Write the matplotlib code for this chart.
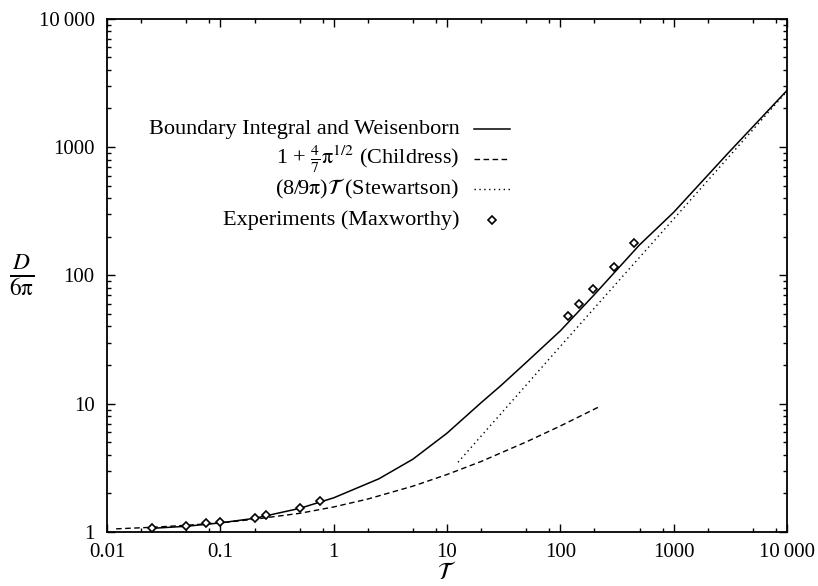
import matplotlib
matplotlib.use("Agg")
import matplotlib.pyplot as plt
from matplotlib.lines import Line2D
from matplotlib.ticker import FixedLocator, FixedFormatter, LogLocator, NullFormatter

plt.rcParams["font.family"] = ["Liberation Serif", "DejaVu Serif"]
plt.rcParams["mathtext.fontset"] = "stix"

# Boundary integral and Weisenborn (solid)
bi_T = [0.025, 0.05, 0.1, 0.2, 0.5, 1, 2.5, 5, 10, 20, 30, 50, 100, 200, 500, 1000, 3000, 10000]
bi_D = [1.07, 1.11, 1.18, 1.28, 1.53, 1.85, 2.6, 3.7, 5.9, 10.2, 13.9, 21, 37, 71, 173, 310, 890, 2760]

# Childress (dashed)
ch_T = [0.012, 0.025, 0.05, 0.1, 0.2, 0.5, 1, 2, 5, 10, 20, 50, 100, 220]
ch_D = [1.06, 1.09, 1.13, 1.18, 1.26, 1.40, 1.57, 1.81, 2.28, 2.81, 3.55, 5.04, 6.71, 9.47]

# Stewartson (dotted)
st_T = [12.5, 100, 1000, 10000]
st_D = [3.5, 28, 275, 2720]

# Experiments (Maxworthy)
ex_T = [0.025, 0.05, 0.075, 0.1, 0.2, 0.25, 0.5, 0.75, 116, 147, 196, 297, 449]
ex_D = [1.07, 1.12, 1.17, 1.20, 1.29, 1.36, 1.55, 1.74, 48, 60, 78, 117, 179]

labels = [
    "Boundary Integral and Weisenborn",
    r"1 + $\frac{4}{7}\mathrm{\pi}^{1/2}$ (Childress)",
    r"(8/9$\mathrm{\pi}$)$\mathcal{T}$ (Stewartson)",
    "Experiments (Maxworthy)",
]

xticks = [0.01, 0.1, 1, 10, 100, 1000, 10000]
xticklabels = ["0.01", "0.1", "1", "10", "100", "1000", "10\u2009000"]
yticks = [1, 10, 100, 1000, 10000]
yticklabels = ["1", "10", "100", "1000", "10\u2009000"]

fig = plt.figure(figsize=(8.18, 5.86), dpi=100)
ax = fig.add_axes([0.131, 0.092, 0.831, 0.876])

ax.plot(bi_T, bi_D, color="black", lw=1.1, ls="-")
ax.plot(ch_T, ch_D, color="black", lw=1.0, ls=(0, (4, 2.5)))
ax.plot(st_T, st_D, color="black", lw=1.0, ls=(0, (1, 2.5)))
ax.plot(ex_T, ex_D, ls="none", marker="D", ms=4.5, mfc="white", mec="black", mew=1.2)

ax.set_xscale("log")
ax.set_yscale("log")
ax.set_xlim(0.01, 10000)
ax.set_ylim(1, 10000)

ax.xaxis.set_major_locator(FixedLocator(xticks))
ax.xaxis.set_major_formatter(FixedFormatter(xticklabels))
ax.yaxis.set_major_locator(FixedLocator(yticks))
ax.yaxis.set_major_formatter(FixedFormatter(yticklabels))
ax.xaxis.set_minor_locator(LogLocator(base=10, subs=(2, 5, 8), numticks=20))
ax.yaxis.set_minor_locator(LogLocator(base=10, subs=range(2, 10), numticks=20))
ax.xaxis.set_minor_formatter(NullFormatter())
ax.yaxis.set_minor_formatter(NullFormatter())

ax.tick_params(which="both", direction="in", top=True, right=True, labelsize=15, width=1)
ax.tick_params(which="major", length=6)
ax.tick_params(which="minor", length=3)
ax.tick_params(axis="x", pad=8)
ax.tick_params(axis="y", pad=9)
for s in ax.spines.values():
    s.set_linewidth(1.3)

# axis labels placed by hand (x label sits low, under the tick labels)
ax_box = ax.get_position()
fig.text((ax_box.x0 + ax_box.x1) / 2, 0.004, r"$\mathcal{T}$", fontsize=17,
         ha="center", va="bottom")
ax.text(-0.125, 0.50, r"$\frac{D}{6\mathrm{\pi}}$", transform=ax.transAxes,
        fontsize=24, ha="center", va="center")

# gnuplot-style key: text right-aligned, sample to the right
styles = [
    dict(ls="-", lw=1.1),
    dict(ls=(0, (4, 2.5)), lw=1.0),
    dict(ls=(0, (1, 2.5)), lw=1.0),
    None,
]
x_text = 0.518
x0, x1 = 0.540, 0.593
row_y = [0.785, 0.727, 0.669, 0.608]
for lab, st, yy in zip(labels, styles, row_y):
    ax.text(x_text, yy, lab, transform=ax.transAxes, ha="right", va="center", fontsize=16)
    if st is not None:
        ax.add_line(Line2D([x0, x1], [yy, yy], transform=ax.transAxes, color="black", **st))
    else:
        ax.add_line(Line2D([(x0 + x1) / 2], [yy], transform=ax.transAxes, ls="none",
                           marker="D", ms=4.5, mfc="white", mec="black", mew=1.2))

fig.savefig("out.png", dpi=100)
